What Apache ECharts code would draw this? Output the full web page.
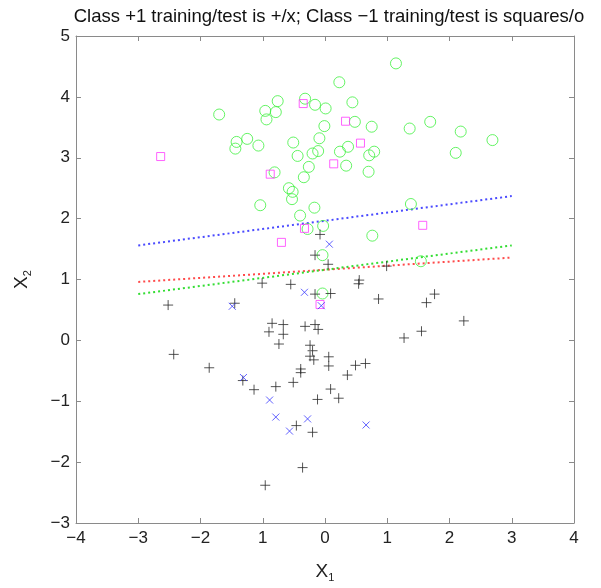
<!DOCTYPE html>
<html>
<head>
<meta charset="utf-8">
<script src="https://cdn.jsdelivr.net/npm/echarts@6/dist/echarts.min.js"></script>
<style>
  html, body { margin: 0; padding: 0; background: #fff; }
  #chart { width: 601px; height: 588px; }
</style>
</head>
<body>
<div id="chart"></div>
<script>
// tick labels as printed (the -1 on the x axis lost its minus in the original)
const xTickLabels = ['−4', '−3', '−2', '1', '0', '1', '2', '3', '4'];
const yTickLabels = ['−3', '−2', '−1', '0', '1', '2', '3', '4', '5'];

// class +1 training (+)
const posTrain = [
  [-0.08, 1.74], [-0.16, 1.40], [0.05, 1.25], [-1.01, 0.94], [-0.55, 0.92],
  [-0.16, 0.76], [0.09, 0.77], [0.55, 0.99], [0.54, 0.93], [0.99, 1.22],
  [0.86, 0.68], [1.76, 0.76], [1.63, 0.62], [2.23, 0.32], [1.55, 0.15],
  [1.27, 0.04], [-2.52, 0.58], [-1.45, 0.61], [-2.43, -0.23], [-1.86, -0.45],
  [-0.85, 0.28], [-0.67, 0.26], [-0.90, 0.14], [-0.67, 0.10], [-0.74, -0.06],
  [-0.32, 0.23], [-0.16, 0.26], [-0.11, 0.18], [-0.24, -0.08], [-0.20, -0.17],
  [-0.24, -0.26], [-0.18, -0.32], [0.06, -0.27], [0.06, -0.42], [-0.39, -0.47],
  [-0.39, -0.53], [-0.51, -0.69], [-0.79, -0.76], [-1.14, -0.81], [-1.32, -0.66],
  [-0.12, -0.97], [0.09, -0.80], [0.22, -0.95], [0.36, -0.57], [0.49, -0.41],
  [0.65, -0.38], [-0.46, -1.40], [-0.20, -1.51], [-0.36, -2.09], [-0.96, -2.38]
];
// class +1 test (x)
const posTest = [
  [0.07, 1.58], [-0.33, 0.79], [-0.06, 0.57], [-1.49, 0.56], [-1.31, -0.61],
  [-0.89, -0.98], [-0.79, -1.26], [-0.28, -1.29], [-0.57, -1.49], [0.66, -1.39]
];
// class -1 training (o)
const negTrain = [
  [-1.70, 3.71], [-0.96, 3.77], [-0.94, 3.63], [-0.79, 3.75], [-0.76, 3.93],
  [-0.32, 3.97], [-0.16, 3.87], [0.01, 3.81], [-0.01, 3.52], [-1.42, 3.26],
  [-1.44, 3.15], [-1.25, 3.31], [-1.07, 3.20], [-0.51, 3.25], [-0.44, 3.03],
  [-0.20, 3.07], [-0.11, 3.11], [-0.09, 3.32], [-0.26, 2.85], [-0.34, 2.68],
  [-0.81, 2.76], [-0.58, 2.50], [-0.52, 2.44], [-0.53, 2.32], [-1.04, 2.22],
  [-0.40, 2.05], [-0.17, 2.18], [-0.28, 1.83], [-0.03, 1.88], [-0.04, 1.40],
  [-0.04, 0.77], [1.14, 4.55], [0.23, 4.24], [0.44, 3.91], [0.48, 3.59],
  [0.75, 3.51], [1.36, 3.48], [1.69, 3.59], [2.18, 3.43], [2.69, 3.29],
  [0.24, 3.10], [0.37, 3.18], [0.71, 3.04], [0.79, 3.10], [2.10, 3.08],
  [0.34, 2.87], [0.70, 2.77], [1.38, 2.24], [0.76, 1.72], [1.54, 1.30]
];
// class -1 test (squares)
const negTest = [
  [-2.64, 3.02], [-0.35, 3.89], [-0.88, 2.73], [-0.70, 1.61], [-0.33, 1.84],
  [-0.08, 0.59], [0.33, 3.60], [0.57, 3.24], [0.14, 2.90], [1.57, 1.89]
];
// separating lines (dotted)
const blueLine = [[-3, 1.56], [3, 2.37]];
const redLine = [[-3, 0.96], [3, 1.36]];
const greenLine = [[-3, 0.76], [3, 1.56]];

const FONT = 'Liberation Sans';
const AXIS_GREY = '#8a8a8a';

function frameAxis(extra) {
  return Object.assign({
    type: 'value',
    axisLine: { show: true, onZero: false, lineStyle: { color: AXIS_GREY, width: 1 } },
    axisTick: { show: true, inside: true, length: 5, lineStyle: { color: AXIS_GREY } },
    splitLine: { show: false }
  }, extra);
}

function dotted(name, data, color) {
  return {
    name: name,
    type: 'line',
    data: data,
    symbol: 'none',
    silent: true,
    z: 1,
    lineStyle: { color: color, width: 2, type: [2, 3] }
  };
}

const chart = echarts.init(document.getElementById('chart'));
chart.setOption({
  animation: false,
  textStyle: { fontFamily: FONT },
  title: {
    text: 'Class +1 training/test is +/x; Class −1 training/test is squares/o',
    left: 324,
    top: 2,
    textAlign: 'center',
    textStyle: { fontFamily: FONT, fontSize: 18.5, fontWeight: 'normal', color: '#111' }
  },
  grid: { left: 76, right: 27, top: 36, bottom: 55 },
  xAxis: [
    frameAxis({
      position: 'bottom', min: -4, max: 4, interval: 1,
      axisLabel: {
        color: '#222', fontSize: 17, margin: 7,
        formatter: v => xTickLabels[Math.round(v + 4)]
      },
      name: '{a|X}{b|1}',
      nameLocation: 'middle',
      nameGap: 37,
      nameTextStyle: {
        rich: {
          a: { fontSize: 19, color: '#222', fontFamily: FONT },
          b: { fontSize: 11, color: '#222', fontFamily: FONT, padding: [12, 0, 0, 0] }
        }
      }
    }),
    frameAxis({ position: 'top', min: -4, max: 4, interval: 1, axisLabel: { show: false } })
  ],
  yAxis: [
    frameAxis({
      position: 'left', min: -3, max: 5, interval: 1,
      axisLabel: {
        color: '#222', fontSize: 17, margin: 6,
        formatter: v => yTickLabels[Math.round(v + 3)]
      },
      name: '{a|X}{b|2}',
      nameLocation: 'middle',
      nameGap: 43,
      nameTextStyle: {
        rich: {
          a: { fontSize: 19, color: '#222', fontFamily: FONT },
          b: { fontSize: 11, color: '#222', fontFamily: FONT, padding: [12, 0, 0, 0] }
        }
      }
    }),
    frameAxis({ position: 'right', min: -3, max: 5, interval: 1, axisLabel: { show: false } })
  ],
  series: [
    dotted('w1', blueLine, '#4a4aff'),
    dotted('w2', redLine, '#ff4a4a'),
    dotted('w3', greenLine, '#33dd33'),
    {
      name: 'class -1 train',
      type: 'scatter',
      data: negTrain,
      symbol: 'circle',
      symbolSize: 11,
      itemStyle: { color: 'rgba(0,0,0,0)', borderColor: '#3ef03e', borderWidth: 1 }
    },
    {
      name: 'class -1 test',
      type: 'scatter',
      data: negTest,
      symbol: 'rect',
      symbolSize: 8,
      itemStyle: { color: 'rgba(0,0,0,0)', borderColor: '#ff3cff', borderWidth: 1 }
    },
    {
      name: 'class +1 train',
      type: 'scatter',
      data: posTrain,
      symbol: 'path://M0,5L10,5M5,0L5,10',
      symbolSize: 10,
      itemStyle: { color: 'none', borderColor: '#2a2a2a', borderWidth: 1 }
    },
    {
      name: 'class +1 test',
      type: 'scatter',
      data: posTest,
      symbol: 'path://M0,0L10,10M0,10L10,0',
      symbolSize: 7,
      itemStyle: { color: 'none', borderColor: '#3a3aff', borderWidth: 1 }
    }
  ]
});
</script>
</body>
</html>
